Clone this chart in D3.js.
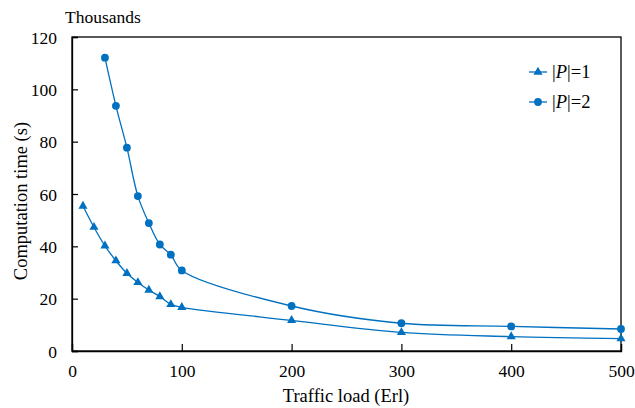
<!DOCTYPE html>
<html><head><meta charset="utf-8">
<script src="https://cdn.jsdelivr.net/npm/d3@7"></script>
<style>body{margin:0;background:#fff}svg{display:block}text{font-family:"Liberation Serif","Times New Roman",serif;fill:#000}</style>
</head><body><svg id="c" width="635" height="408"></svg>
<script>
const loadsP1 = [10,20,30,40,50,60,70,80,90,100,200,300,400,500];
const timeP1 = [55.4,47.3,40.2,34.5,29.7,26.2,23.3,20.8,17.8,16.7,11.7,7.1,5.5,4.7];
const loadsP2 = [30,40,50,60,70,80,90,100,200,300,400,500];
const timeP2 = [112.1,93.7,77.7,59.2,48.9,40.7,36.8,30.8,17.2,10.6,9.4,8.4];
const xTicks = [0,100,200,300,400,500];
const yTicks = [0,20,40,60,80,100,120];
const seriesNames = ["1","2"];

const svg = d3.select("#c");
const L=72,R=621,T=37,B=351;
const x = d3.scaleLinear().domain([0,500]).range([L,R]);
const y = d3.scaleLinear().domain([0,120]).range([B,T]);
const color = "#0070C0";

// frame
svg.append("rect").attr("x",L).attr("y",T).attr("width",R-L).attr("height",B-T)
  .attr("fill","none").attr("stroke","#000").attr("stroke-width",1.3);

const xa = svg.append("g").attr("transform",`translate(0,${B})`)
  .call(d3.axisBottom(x).tickValues(xTicks).tickSize(-7).tickPadding(14).tickFormat(d3.format("d")));
const ya = svg.append("g").attr("transform",`translate(${L},0)`)
  .call(d3.axisLeft(y).tickValues(yTicks).tickSize(-6).tickPadding(15).tickFormat(d3.format("d")));
[xa,ya].forEach(a=>{
  a.select(".domain").attr("stroke","#000").attr("stroke-width",1.3);
  a.selectAll(".tick line").attr("stroke","#000").attr("stroke-width",1.2);
  a.selectAll(".tick text").attr("font-size",17.5).attr("font-family","Liberation Serif").attr("fill","#000");
});
ya.selectAll(".tick text").attr("dy","0.35em");

svg.append("text").attr("x",346).attr("y",402).attr("text-anchor","middle").attr("font-size",18.5).text("Traffic load (Erl)");
svg.append("text").attr("transform","translate(27,201) rotate(-90)").attr("text-anchor","middle").attr("font-size",18.5).text("Computation time (s)");
svg.append("text").attr("x",65).attr("y",23).attr("font-size",17.5).text("Thousands");

const line = d3.line().x(d=>x(d[0])).y(d=>y(d[1])).curve(d3.curveCatmullRom.alpha(0.5));
const d1 = loadsP1.map((v,i)=>[v,timeP1[i]]);
const d2 = loadsP2.map((v,i)=>[v,timeP2[i]]);
svg.append("path").datum(d1).attr("d",line).attr("fill","none").attr("stroke",color).attr("stroke-width",1.3);
svg.append("path").datum(d2).attr("d",line).attr("fill","none").attr("stroke",color).attr("stroke-width",1.3);

const tri = d3.symbol().type(d3.symbolTriangle).size(36);
svg.append("g").selectAll("path").data(d1).join("path")
  .attr("d",tri).attr("transform",d=>`translate(${x(d[0])},${y(d[1])})`).attr("fill",color);
svg.append("g").selectAll("circle").data(d2).join("circle")
  .attr("cx",d=>x(d[0])).attr("cy",d=>y(d[1])).attr("r",3.9).attr("fill",color);

// legend
const lg = svg.append("g");
[0,1].forEach(i=>{
  const ly = 72 + i*30;
  lg.append("line").attr("x1",529).attr("x2",547).attr("y1",ly).attr("y2",ly).attr("stroke",color).attr("stroke-width",1.3);
  if(i===0) lg.append("path").attr("d",tri).attr("transform",`translate(538,${ly})`).attr("fill",color);
  else lg.append("circle").attr("cx",538).attr("cy",ly).attr("r",3.9).attr("fill",color);
  const t = lg.append("text").attr("x",552).attr("y",ly+6).attr("font-size",18.5);
  t.append("tspan").text("|");
  t.append("tspan").attr("font-style","italic").text("P");
  t.append("tspan").text("|=" + seriesNames[i]);
});
</script></body></html>
